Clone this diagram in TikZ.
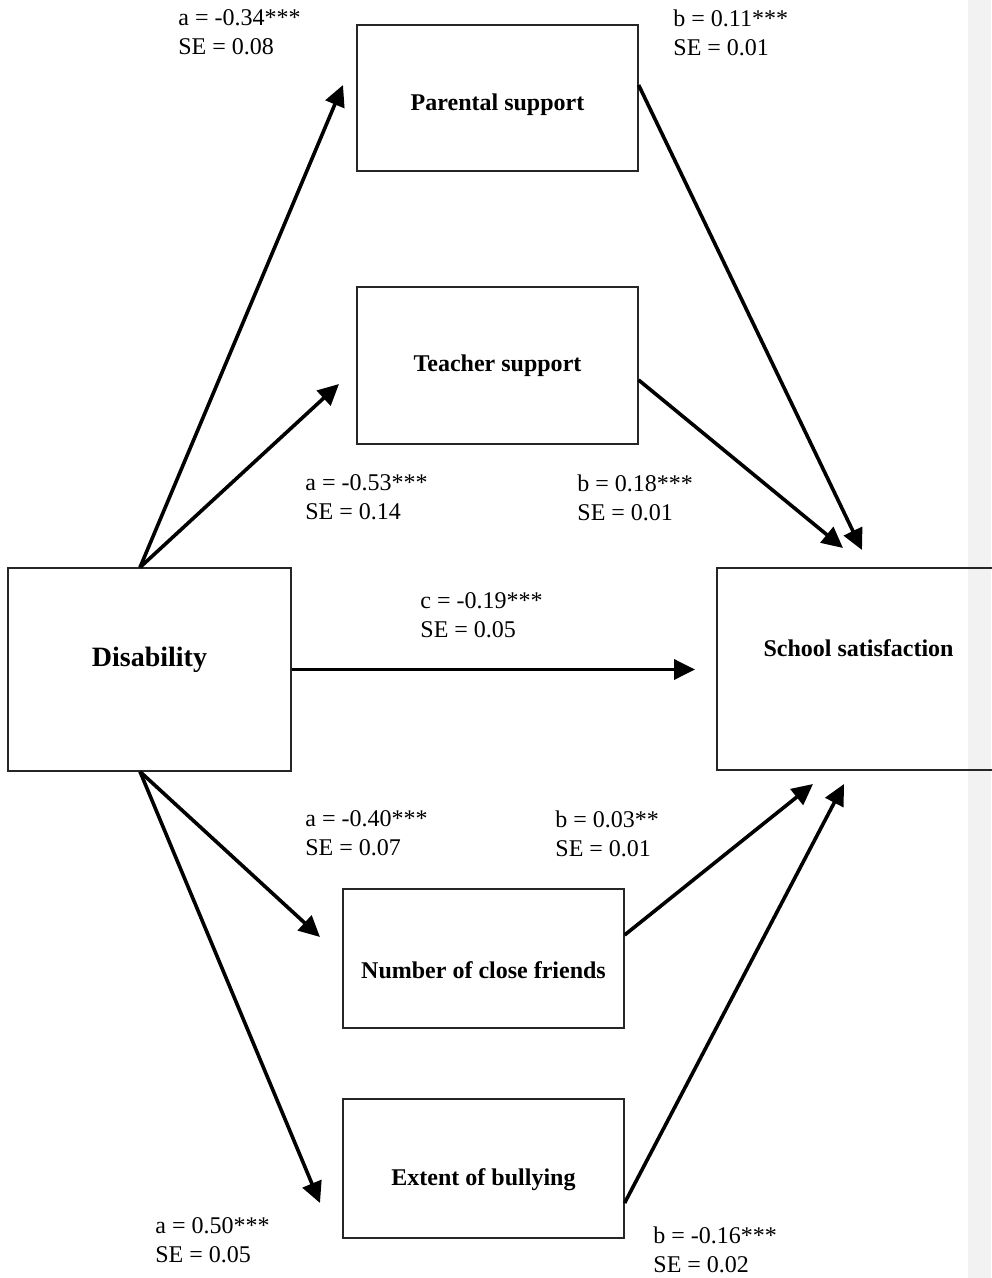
\documentclass[tikz,border=0pt]{standalone}
\usepackage{fontspec}
\setmainfont{Liberation Serif}
\usetikzlibrary{arrows.meta}
\definecolor{margingrey}{RGB}{242,242,242}
\tikzset{
  box/.style={draw=black!85, line width=0.6pt, minimum width=140.5pt, inner sep=0pt,
    font=\fontsize{12}{14.5}\selectfont\bfseries},
  coef/.style={align=left, anchor=north west, inner sep=0pt,
    font=\fontsize{12}{14.5}\selectfont},
  arr/.style={-{Triangle[length=10.5pt,width=10pt]}, line width=1.8pt}
}

\begin{document}
\begin{tikzpicture}[x=0.5pt,y=-0.5pt]
    \useasboundingbox (0,0) rectangle (991,1278);
    % comment margin
    \fill[margingrey] (968,0) rectangle (991,1278);
    % boxes
    \node[box, minimum height=73pt, text height=15.2pt] (par) at (497.5,98) {Parental support};
    \node[box, minimum height=78.5pt] (tea) at (497.5,365.5) {Teacher support};
    \node[box, minimum width=141.5pt, minimum height=101.5pt, text depth=12.6pt,
      font=\fontsize{14}{16}\selectfont\bfseries] (dis) at (149.5,669.5) {Disability};
    \node[box, minimum width=141.5pt, minimum height=101pt, text depth=21pt] (sch) at (858.5,669) {School satisfaction};
    \node[box, minimum height=69.5pt, text height=19.7pt] (fri) at (483.5,958.5) {Number of close friends};
    \node[box, minimum height=69.5pt, text height=19.7pt] (bul) at (483.5,1168.5) {Extent of bullying};
    % free ends of the arrows
    \coordinate (parin) at (343,85);
    \coordinate (teain) at (339,384);
    \coordinate (friin) at (320,937);
    \coordinate (bulin) at (320,1203);
    \coordinate (schpar) at (862,550);
    \coordinate (schtea) at (843,548);
    \coordinate (schdis) at (695,669.5);
    \coordinate (schfri) at (813,784);
    \coordinate (schbul) at (844,784);
    % a paths
    \draw[arr] ([xshift=-4.75pt]dis.north) -- (parin);
    \draw[arr] ([xshift=-4.75pt]dis.north) -- (teain);
    \draw[arr] ([xshift=-4.75pt]dis.south) -- (friin);
    \draw[arr] ([xshift=-4.75pt]dis.south) -- (bulin);
    % b paths
    \draw[arr] ([yshift=6.5pt]par.east) -- (schpar);
    \draw[arr] ([yshift=-7.25pt]tea.east) -- (schtea);
    \draw[arr] ([yshift=11.75pt]fri.east) -- (schfri);
    \draw[arr] ([yshift=-17.25pt]bul.east) -- (schbul);
    % c path
    \draw[arr] (dis.east) -- (schdis);
    % coefficients
    \node[coef] (apar) at (178,9) {a = -0.34***\\SE = 0.08};
    \node[coef] (bpar) at (673,9) {b = 0.11***\\SE = 0.01};
    \node[coef] (atea) at (305,474) {a = -0.53***\\SE = 0.14};
    \node[coef] (btea) at (577,474) {b = 0.18***\\SE = 0.01};
    \node[coef] (cdis) at (420,592) {c = -0.19***\\SE = 0.05};
    \node[coef] (afri) at (305,810) {a = -0.40***\\SE = 0.07};
    \node[coef] (bfri) at (555,810) {b = 0.03**\\SE = 0.01};
    \node[coef] (abul) at (155,1217) {a = 0.50***\\SE = 0.05};
    \node[coef] (bbul) at (653,1226) {b = -0.16***\\SE = 0.02};
\end{tikzpicture}
\end{document}
